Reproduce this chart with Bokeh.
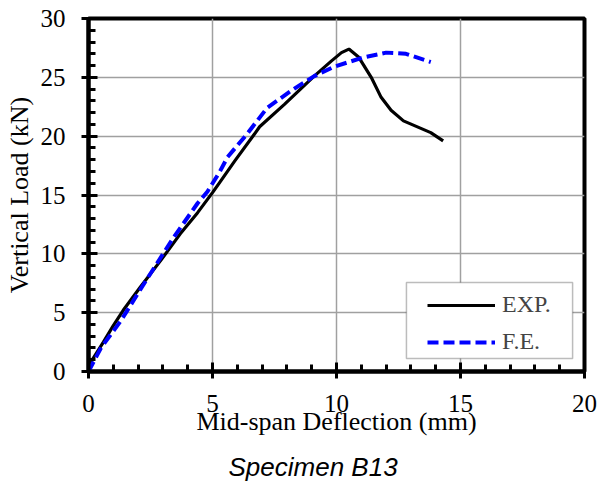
from bokeh.plotting import figure
from bokeh.models import (Range1d, Legend, LegendItem, BoxAnnotation, Title, Label,
                          SingleIntervalTicker)
from bokeh.embed import file_html
from bokeh.resources import INLINE

# Experimental curve (mid-span deflection mm, load kN)
exp_x = [0, 0.15, 0.6, 1.0, 1.4, 2.1, 2.9, 3.7, 4.4, 5.0, 5.3, 5.9, 6.7, 6.9, 7.9, 9.1, 9.8,
         10.2, 10.5, 10.9, 11.4, 11.8, 12.2, 12.7, 13.8, 14.3]
exp_y = [0, 1.0, 2.5, 3.9, 5.2, 7.2, 9.4, 11.7, 13.5, 15.2, 16.1, 17.9, 20.2, 20.8, 22.7, 25.1, 26.4,
         27.1, 27.4, 26.7, 25.0, 23.3, 22.2, 21.3, 20.3, 19.6]

# Finite element curve
fe_x = [0, 0.5, 1.3, 2.4, 3.4, 4.4, 4.8, 5.3, 5.6, 6.4, 7.2, 8.2, 9.1, 9.9, 11.1, 12.0, 12.8, 13.8]
fe_y = [0, 2.0, 4.3, 8.0, 11.3, 14.3, 15.3, 17.0, 18.2, 20.2, 22.4, 23.9, 25.1, 25.9, 26.7, 27.1, 27.0, 26.3]

x_label = "Mid-span Deflection (mm)"
y_label = "Vertical Load (kN)"
series_names = ["EXP.", "F.E."]
caption = "Specimen  B13"

SERIF = "Liberation Serif"

p = figure(width=600, height=493, output_backend="svg", toolbar_location=None,
           x_range=Range1d(0, 20), y_range=Range1d(0, 30),
           min_border_left=88, min_border_right=16, min_border_top=18, min_border_bottom=122)

p.outline_line_color = "black"
p.outline_line_width = 4

for ax in (p.xaxis, p.yaxis):
    ax.axis_line_color = "black"
    ax.axis_line_width = 4
    ax.major_tick_line_color = "black"
    ax.minor_tick_line_color = "black"
    ax.major_tick_line_width = 3
    ax.minor_tick_line_width = 3
    ax.major_tick_in = 9
    ax.major_tick_out = 7
    ax.minor_tick_in = 7
    ax.minor_tick_out = 0
    ax.major_label_text_font = SERIF
    ax.major_label_text_font_size = "25px"
    ax.major_label_text_color = "black"
    ax.axis_label_text_font = SERIF
    ax.axis_label_text_font_size = "26px"
    ax.axis_label_text_font_style = "normal"
    ax.axis_label_text_color = "black"
    ax.ticker = SingleIntervalTicker(interval=5, num_minor_ticks=5)

p.xaxis.axis_label = x_label
p.yaxis.axis_label = y_label
p.xaxis.major_label_standoff = 16
p.xaxis.axis_label_standoff = -8
p.yaxis.major_label_standoff = 16
p.yaxis.axis_label_standoff = 4

p.grid.grid_line_color = "#a0a0a0"
p.grid.grid_line_width = 1.5

r_exp = p.line(exp_x, exp_y, line_color="black", line_width=3.2)
r_fe = p.line(fe_x, fe_y, line_color="#0000ff", line_width=4, line_dash="11 5")

box = BoxAnnotation(left=12.82, right=19.52, bottom=1.10, top=7.56,
                    fill_color="white", fill_alpha=1.0, line_color="#222222", line_width=1.5)
p.add_layout(box)

legend = Legend(items=[LegendItem(label=series_names[0], renderers=[r_exp]),
                       LegendItem(label=series_names[1], renderers=[r_fe])],
                location=(339, 16), margin=0, padding=0, spacing=10,
                glyph_width=68, glyph_height=26, label_height=26, label_standoff=7,
                label_text_font=SERIF, label_text_font_size="24px",
                border_line_alpha=0, background_fill_alpha=0)
p.add_layout(legend)

title = Title(text=caption, align="left", text_font="Liberation Sans",
              text_font_size="26px", text_font_style="italic", text_color="black",
              standoff=22, offset=140)
p.add_layout(title, "below")

# underline of the caption: a thin filled label box below the frame
underline = Label(x=9.07, y=-9.9, text=" ", text_font_size="2px",
                  text_align="center", text_baseline="middle",
                  padding=(0, 85, 0, 85), background_fill_color="black",
                  background_fill_alpha=1.0)
p.add_layout(underline)

open("out.html", "w").write(file_html(p, INLINE))
